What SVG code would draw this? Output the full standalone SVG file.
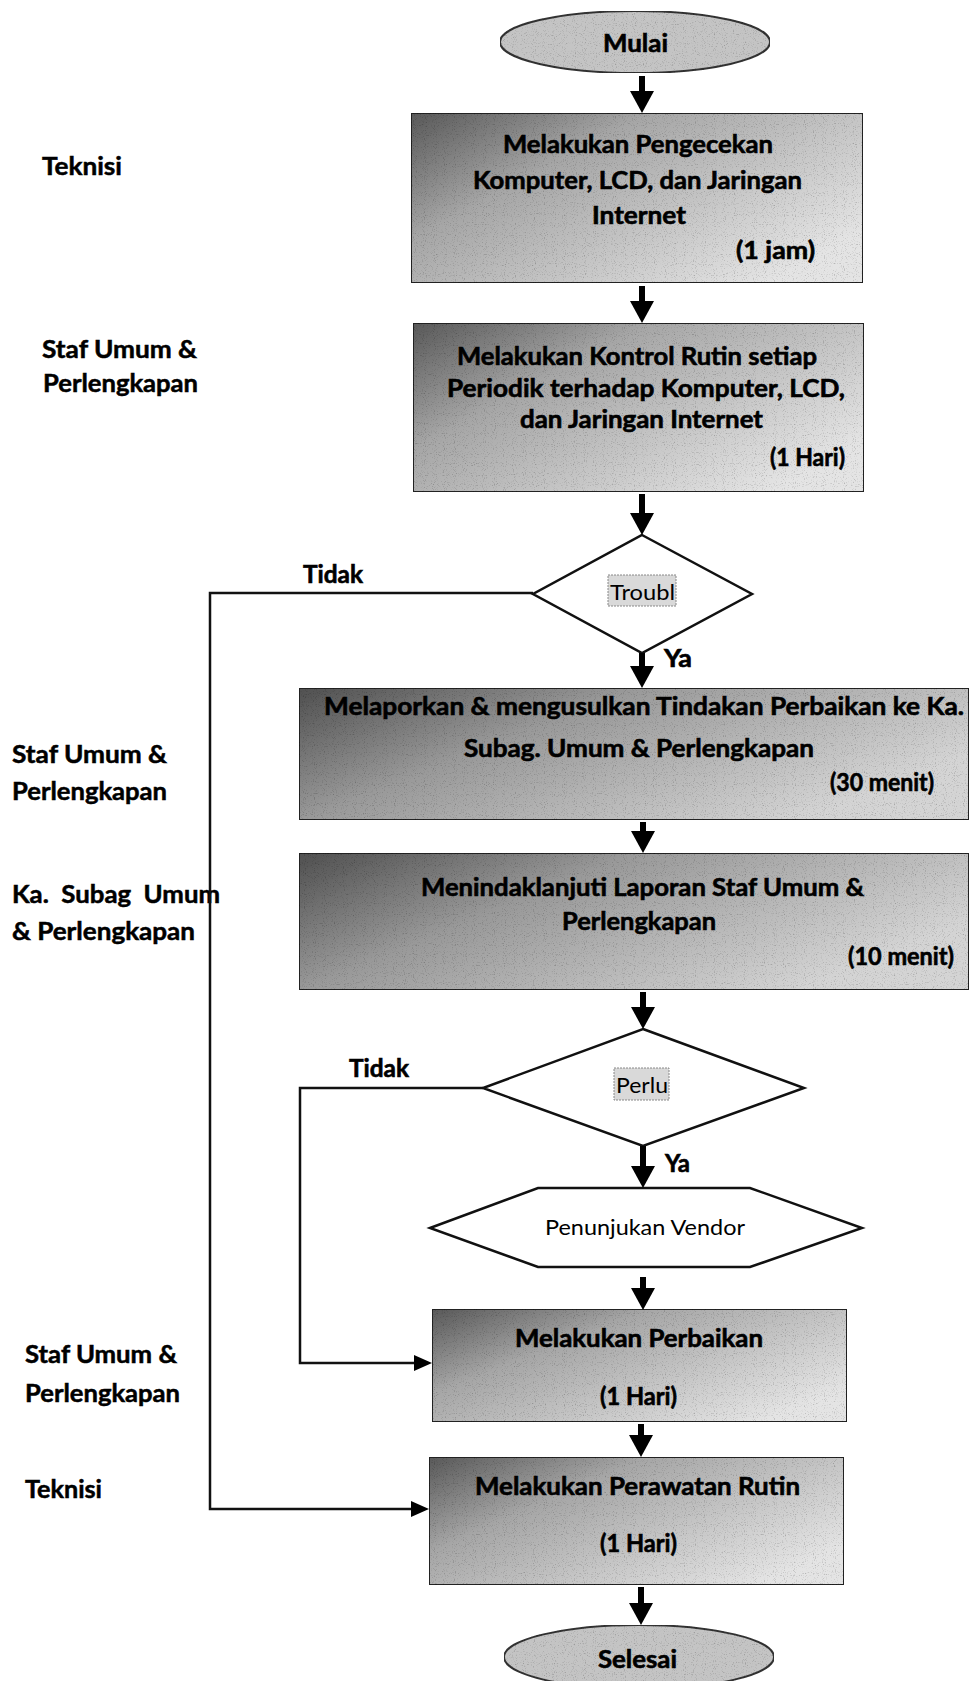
<svg xmlns="http://www.w3.org/2000/svg" width="972" height="1681" viewBox="0 0 972 1681">
<style>
.bx{stroke:#222;stroke-width:2}
.t{font-family:Lato,"Liberation Sans",sans-serif;font-weight:bold;font-size:24px;fill:#000;stroke:#000;stroke-width:0.6}
.lb{font-family:Lato,"Liberation Sans",sans-serif;font-weight:bold;font-size:24px;fill:#000;stroke:#000;stroke-width:0.5;white-space:pre}
.r{font-family:Lato,"Liberation Sans",sans-serif;font-size:22px;fill:#000}
.ln{fill:none;stroke:#000;stroke-width:6}
.sl{fill:none;stroke:#111;stroke-width:2.5}
.dm{fill:#fff;stroke:#111;stroke-width:2.5}
.tb{fill:#d9d9d9;stroke:#888;stroke-width:1;stroke-dasharray:2 1}
</style>
<defs>
<linearGradient id="g1" x1="0" y1="0" x2="1" y2="0.7">
<stop offset="0" stop-color="#595959"/><stop offset="0.35" stop-color="#a6a6a6"/><stop offset="1" stop-color="#e4e4e4"/>
</linearGradient>
<linearGradient id="g2" x1="0" y1="0" x2="1" y2="0.5">
<stop offset="0" stop-color="#505050"/><stop offset="0.4" stop-color="#999"/><stop offset="1" stop-color="#d4d4d4"/>
</linearGradient>
<filter id="grain" x="0" y="0" width="1" height="1">
<feTurbulence type="fractalNoise" baseFrequency="0.9" numOctaves="1" seed="4" result="n"/>
<feColorMatrix in="n" type="matrix" values="0 0 0 0 0  0 0 0 0 0  0 0 0 0 0  4 0 0 0 -2.2" result="d"/>
<feComposite in="d" in2="SourceGraphic" operator="in" result="dc"/>
<feComponentTransfer in="dc" result="dd"><feFuncA type="linear" slope="0.4"/></feComponentTransfer>
<feMerge><feMergeNode in="SourceGraphic"/><feMergeNode in="dd"/></feMerge>
</filter>
<marker id="ah" markerUnits="userSpaceOnUse" markerWidth="24" markerHeight="24" viewBox="0 0 22 24" refX="2" refY="12" orient="auto">
<path d="M0,0 L22,12 L0,24 z" fill="#000"/>
</marker>
<marker id="as" markerUnits="userSpaceOnUse" markerWidth="18" markerHeight="16" viewBox="0 0 18 16" refX="2" refY="8" orient="auto">
<path d="M0,0 L18,8 L0,16 z" fill="#000"/>
</marker>
</defs>
<rect width="972" height="1681" fill="#fff"/>

<g id="labels">
<text class="lb" x="42" y="175" textLength="80" lengthAdjust="spacingAndGlyphs">Teknisi</text>
<text class="lb" x="42" y="358" textLength="155" lengthAdjust="spacingAndGlyphs">Staf Umum &amp;</text>
<text class="lb" x="43" y="392" textLength="155" lengthAdjust="spacingAndGlyphs">Perlengkapan</text>
<text class="lb" x="12" y="763" textLength="155" lengthAdjust="spacingAndGlyphs">Staf Umum &amp;</text>
<text class="lb" x="12" y="800" textLength="155" lengthAdjust="spacingAndGlyphs">Perlengkapan</text>
<text class="lb" x="12" y="903" textLength="208" lengthAdjust="spacingAndGlyphs">Ka.  Subag  Umum</text>
<text class="lb" x="12" y="940" textLength="183" lengthAdjust="spacingAndGlyphs">&amp; Perlengkapan</text>
<text class="lb" x="25" y="1363" textLength="152" lengthAdjust="spacingAndGlyphs">Staf Umum &amp;</text>
<text class="lb" x="25" y="1402" textLength="155" lengthAdjust="spacingAndGlyphs">Perlengkapan</text>
<text class="lb" x="25" y="1498" textLength="77" lengthAdjust="spacingAndGlyphs">Teknisi</text>
</g>

<g id="mulai">
<ellipse cx="635" cy="42" rx="135" ry="31" fill="#c4c4c4" stroke="#333" stroke-width="2" filter="url(#grain)"/>
<text class="t" x="603" y="52" textLength="65" lengthAdjust="spacingAndGlyphs">Mulai</text>
</g>

<g id="box1">
<rect class="bx" x="411" y="113" width="452" height="170" fill="url(#g1)" filter="url(#grain)"/>
<text class="t" x="503" y="153" textLength="270" lengthAdjust="spacingAndGlyphs">Melakukan Pengecekan</text>
<text class="t" x="473" y="189" textLength="329" lengthAdjust="spacingAndGlyphs">Komputer, LCD, dan Jaringan</text>
<text class="t" x="592" y="224" textLength="94" lengthAdjust="spacingAndGlyphs">Internet</text>
<text class="t" x="736" y="259" textLength="79" lengthAdjust="spacingAndGlyphs">(1 jam)</text>
</g>

<g id="box2">
<rect class="bx" x="413" y="323" width="451" height="169" fill="url(#g1)" filter="url(#grain)"/>
<text class="t" x="457" y="365" textLength="360" lengthAdjust="spacingAndGlyphs">Melakukan Kontrol Rutin setiap</text>
<text class="t" x="447" y="397" textLength="398" lengthAdjust="spacingAndGlyphs">Periodik terhadap Komputer, LCD,</text>
<text class="t" x="520" y="428" textLength="243" lengthAdjust="spacingAndGlyphs">dan Jaringan Internet</text>
<text class="t" x="770" y="466" textLength="75" lengthAdjust="spacingAndGlyphs">(1 Hari)</text>
</g>

<g id="dec1">
<polygon class="dm" points="642,535 752,594 642,653 533,594"/>
<rect class="tb" x="608" y="575" width="68" height="31"/>
<text class="r" x="610" y="600" font-size="25" textLength="65" lengthAdjust="spacingAndGlyphs">Troubl</text>
</g>

<g id="box3">
<rect class="bx" x="299" y="688" width="670" height="132" fill="url(#g2)" filter="url(#grain)"/>
<text class="t" x="324" y="715" textLength="640" lengthAdjust="spacingAndGlyphs">Melaporkan &amp; mengusulkan Tindakan Perbaikan ke Ka.</text>
<text class="t" x="464" y="757" textLength="350" lengthAdjust="spacingAndGlyphs">Subag. Umum &amp; Perlengkapan</text>
<text class="t" x="830" y="791" textLength="104" lengthAdjust="spacingAndGlyphs">(30 menit)</text>
</g>

<g id="box4">
<rect class="bx" x="299" y="853" width="670" height="137" fill="url(#g2)" filter="url(#grain)"/>
<text class="t" x="421" y="896" textLength="443" lengthAdjust="spacingAndGlyphs">Menindaklanjuti Laporan Staf Umum &amp;</text>
<text class="t" x="562" y="930" textLength="154" lengthAdjust="spacingAndGlyphs">Perlengkapan</text>
<text class="t" x="848" y="965" textLength="106" lengthAdjust="spacingAndGlyphs">(10 menit)</text>
</g>

<g id="dec2">
<polygon class="dm" points="643,1029 804,1088 643,1146 483,1088"/>
<rect class="tb" x="614" y="1068" width="55" height="32"/>
<text class="r" x="616" y="1093" font-size="24" textLength="52" lengthAdjust="spacingAndGlyphs">Perlu</text>
</g>

<g id="vendor">
<polygon class="dm" points="430,1228 538,1188 750,1188 862,1228 750,1267 538,1267"/>
<text class="r" x="545" y="1235" textLength="200" lengthAdjust="spacingAndGlyphs">Penunjukan Vendor</text>
</g>

<g id="box5">
<rect class="bx" x="432" y="1309" width="415" height="113" fill="url(#g1)" filter="url(#grain)"/>
<text class="t" x="515" y="1347" textLength="248" lengthAdjust="spacingAndGlyphs">Melakukan Perbaikan</text>
<text class="t" x="600" y="1405" textLength="77" lengthAdjust="spacingAndGlyphs">(1 Hari)</text>
</g>

<g id="box6">
<rect class="bx" x="429" y="1457" width="415" height="128" fill="url(#g1)" filter="url(#grain)"/>
<text class="t" x="475" y="1495" textLength="325" lengthAdjust="spacingAndGlyphs">Melakukan Perawatan Rutin</text>
<text class="t" x="600" y="1552" textLength="77" lengthAdjust="spacingAndGlyphs">(1 Hari)</text>
</g>

<g id="selesai">
<ellipse cx="639" cy="1657" rx="135" ry="32" fill="#c4c4c4" stroke="#333" stroke-width="2" filter="url(#grain)"/>
<text class="t" x="598" y="1668" textLength="79" lengthAdjust="spacingAndGlyphs">Selesai</text>
</g>

<g id="connectors">
<line class="ln" x1="642" y1="76" x2="642" y2="93" marker-end="url(#ah)"/>
<line class="ln" x1="642" y1="286" x2="642" y2="303" marker-end="url(#ah)"/>
<line class="ln" x1="642" y1="494" x2="642" y2="515" marker-end="url(#ah)"/>
<line class="ln" x1="642" y1="653" x2="642" y2="668" marker-end="url(#ah)"/>
<line class="ln" x1="643" y1="822" x2="643" y2="833" marker-end="url(#ah)"/>
<line class="ln" x1="643" y1="992" x2="643" y2="1009" marker-end="url(#ah)"/>
<line class="ln" x1="643" y1="1146" x2="643" y2="1168" marker-end="url(#ah)"/>
<line class="ln" x1="643" y1="1277" x2="643" y2="1290" marker-end="url(#ah)"/>
<line class="ln" x1="641" y1="1424" x2="641" y2="1437" marker-end="url(#ah)"/>
<line class="ln" x1="641" y1="1587" x2="641" y2="1605" marker-end="url(#ah)"/>
<polyline class="sl" points="533,593 210,593 210,1509 413,1509" marker-end="url(#as)"/>
<polyline class="sl" points="483,1088 300,1088 300,1363 416,1363" marker-end="url(#as)"/>
<text class="t" x="303" y="583" textLength="60" lengthAdjust="spacingAndGlyphs">Tidak</text>
<text class="t" x="664" y="667" textLength="28" lengthAdjust="spacingAndGlyphs">Ya</text>
<text class="t" x="349" y="1077" textLength="60" lengthAdjust="spacingAndGlyphs">Tidak</text>
<text class="t" x="665" y="1172" textLength="25" lengthAdjust="spacingAndGlyphs">Ya</text>
</g>
</svg>
